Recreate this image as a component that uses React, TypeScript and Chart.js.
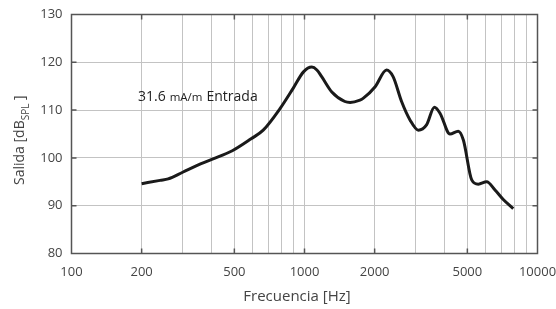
import React, { useEffect, useRef } from "react";
import { Chart, registerables } from "chart.js";

Chart.register(...registerables);

const freqHz = [200, 240, 260, 300, 360, 400, 490, 590, 665, 785, 895, 990, 1075, 1130, 1185, 1310, 1490, 1570, 1730, 1790, 2010, 2250, 2400, 2610, 2840, 3080, 3340, 3610, 3820, 4210, 4570, 4810, 5220, 5570, 6050, 6570, 7130, 7870];
const salidaDb = [94.6, 95.3, 95.6, 97.0, 98.8, 99.7, 101.5, 104.0, 105.8, 110.3, 114.6, 118.0, 119.0, 118.4, 117.0, 113.8, 111.8, 111.6, 112.1, 112.5, 114.9, 118.4, 117.0, 111.8, 107.9, 105.8, 106.9, 110.6, 109.3, 105.0, 105.6, 103.7, 95.4, 94.5, 95.0, 93.3, 91.3, 89.4];

const gridFreqs = [100, 200, 300, 400, 500, 600, 700, 800, 900, 1000, 2000, 3000, 4000, 5000, 6000, 7000, 8000, 9000, 10000];
const labeledFreqs = [100, 200, 500, 1000, 2000, 5000, 10000];
const yTicks = [80, 90, 100, 110, 120, 130];

const FONT = "'Open Sans', 'Noto Sans', sans-serif";
const TEXT = "#444444";

const decorPlugin = {
  id: "decor",
  afterDraw(chart: any) {
    const { ctx, chartArea: a, scales } = chart;
    const xs = scales.x;
    const ys = scales.y;
    ctx.save();
    // inward ticks
    ctx.strokeStyle = "#555555";
    ctx.lineWidth = 1.5;
    ctx.beginPath();
    labeledFreqs.slice(1, -1).forEach((f) => {
      const px = xs.getPixelForValue(f);
      ctx.moveTo(px, a.top);
      ctx.lineTo(px, a.top + 5);
      ctx.moveTo(px, a.bottom);
      ctx.lineTo(px, a.bottom - 5);
    });
    yTicks.slice(1, -1).forEach((v) => {
      const py = ys.getPixelForValue(v);
      ctx.moveTo(a.left, py);
      ctx.lineTo(a.left + 5, py);
      ctx.moveTo(a.right, py);
      ctx.lineTo(a.right - 5, py);
    });
    ctx.stroke();
    // frame
    ctx.strokeRect(a.left, a.top, a.right - a.left, a.bottom - a.top);

    // tick labels
    ctx.fillStyle = TEXT;
    ctx.font = `13px ${FONT}`;
    ctx.textBaseline = "middle";
    ctx.textAlign = "right";
    yTicks.forEach((v) => {
      ctx.fillText(String(v), a.left - 9, ys.getPixelForValue(v));
    });
    ctx.textAlign = "center";
    labeledFreqs.forEach((f) => {
      ctx.fillText(String(f), xs.getPixelForValue(f), a.bottom + 19);
    });

    // annotation
    ctx.fillStyle = "#222222";
    ctx.textBaseline = "alphabetic";
    ctx.textAlign = "left";
    let x = 138;
    const base = 100.5;
    ctx.font = `14px ${FONT}`;
    ctx.fillText("31.6", x, base);
    x += ctx.measureText("31.6").width + 4;
    ctx.font = `11.5px ${FONT}`;
    ctx.fillText("mA/m", x, base);
    x += ctx.measureText("mA/m").width + 4;
    ctx.font = `14px ${FONT}`;
    ctx.fillText("Entrada", x, base);

    // x title
    ctx.fillStyle = TEXT;
    ctx.font = `15px ${FONT}`;
    ctx.textAlign = "center";
    ctx.textBaseline = "middle";
    ctx.fillText("Frecuencia [Hz]", 297, 297);

    // y title with subscript
    ctx.translate(24, 185);
    ctx.rotate(-Math.PI / 2);
    ctx.textAlign = "left";
    ctx.textBaseline = "alphabetic";
    ctx.font = `14px ${FONT}`;
    let tx = 0;
    ctx.fillText("Salida [dB", tx, 0);
    tx += ctx.measureText("Salida [dB").width;
    ctx.font = `10px ${FONT}`;
    ctx.fillText("SPL", tx, 5);
    tx += ctx.measureText("SPL").width;
    ctx.font = `14px ${FONT}`;
    ctx.fillText(" ]", tx, 0);
    ctx.restore();
  },
};

export default function App() {
  const ref = useRef<HTMLCanvasElement | null>(null);
  useEffect(() => {
    if (!ref.current) return;
    const chart = new Chart(ref.current, {
      type: "line",
      data: {
        datasets: [
          {
            data: freqHz.map((f, i) => ({ x: f, y: salidaDb[i] })),
            borderColor: "#1a1a1a",
            borderWidth: 3,
            pointRadius: 0,
            cubicInterpolationMode: "monotone",
            fill: false,
          },
        ],
      },
      options: {
        animation: false,
        responsive: false,
        layout: { padding: { left: 0, right: 18.5, top: 14.5, bottom: 0 } },
        plugins: { legend: { display: false }, tooltip: { enabled: false } },
        scales: {
          x: {
            type: "logarithmic",
            min: 100,
            max: 10000,
            afterBuildTicks: (scale: any) => {
              scale.ticks = gridFreqs.map((v) => ({ value: v }));
            },
            afterFit: (scale: any) => {
              scale.height = 55.5;
            },
            ticks: { display: false, autoSkip: false },
            grid: { color: "#c3c3c3", lineWidth: 1, drawTicks: false },
            border: { display: false },
          },
          y: {
            min: 80,
            max: 130,
            afterBuildTicks: (scale: any) => {
              scale.ticks = yTicks.map((v) => ({ value: v }));
            },
            afterFit: (scale: any) => {
              scale.width = 71.5;
            },
            ticks: { display: false },
            grid: { color: "#c3c3c3", lineWidth: 1, drawTicks: false },
            border: { display: false },
          },
        },
      },
      plugins: [decorPlugin],
    } as any);
    return () => chart.destroy();
  }, []);
  return (
    <div style={{ position: "absolute", left: 0, top: 0, width: 556, height: 309, background: "#fff" }}>
      <canvas ref={ref} width={556} height={309} style={{ display: "block" }} />
    </div>
  );
}
